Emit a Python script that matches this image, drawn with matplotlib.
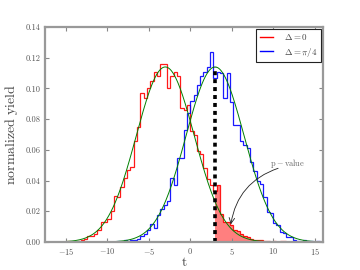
import numpy as np
import matplotlib
matplotlib.use('Agg')
import matplotlib.pyplot as plt
from matplotlib.lines import Line2D
from matplotlib.ticker import FormatStrFormatter

plt.rcParams['font.family'] = 'serif'
plt.rcParams['font.serif'] = ['cmr10']
plt.rcParams['mathtext.fontset'] = 'cm'
plt.rcParams['axes.formatter.use_mathtext'] = True
plt.rcParams['axes.unicode_minus'] = True

# ---------------- data ----------------
bin_width = 0.4
red_start = -15.2
red_values = [0.0, 0.0005, 0.0, 0.0005, 0.0005, 0.001, 0.002, 0.004, 0.004, 0.005,
              0.008, 0.013, 0.013, 0.015, 0.020, 0.030, 0.029, 0.036, 0.042, 0.047,
              0.049, 0.066, 0.075, 0.097, 0.094, 0.100, 0.105, 0.111, 0.108, 0.116,
              0.116, 0.100, 0.108, 0.111, 0.108, 0.087, 0.086, 0.089, 0.072, 0.070,
              0.059, 0.057, 0.048, 0.041, 0.037, 0.033, 0.037, 0.018, 0.013, 0.013,
              0.011, 0.008, 0.007, 0.005, 0.004, 0.0035, 0.002, 0.0015, 0.0012, 0.001,
              0.0005, 0.0005, 0.0, 0.0005, 0.0, 0.0005, 0.0005, 0.0]
blue_start = -8.8
blue_values = [0.0005, 0.0, 0.001, 0.0005, 0.001, 0.0015, 0.002, 0.004, 0.005, 0.0078,
               0.0117, 0.009, 0.0176, 0.0215, 0.024, 0.027, 0.0415, 0.037, 0.0545, 0.055,
               0.073, 0.084, 0.092, 0.096, 0.102, 0.108, 0.111, 0.114, 0.124, 0.107,
               0.111, 0.110, 0.0935, 0.110, 0.091, 0.076, 0.076, 0.066, 0.063, 0.061,
               0.052, 0.046, 0.040, 0.038, 0.0295, 0.0197, 0.019, 0.0122, 0.011, 0.0067,
               0.006, 0.0035, 0.0035, 0.0013, 0.0005, 0.0, 0.001, 0.0005, 0.0005, 0.0,
               0.0005, 0.0]
red_fit_mu, red_fit_sigma = -3.0, 3.5
blue_fit_mu, blue_fit_sigma = 3.0, 3.5
t_obs = 2.95
legend_labels = [r'$\Delta = 0$', r'$\Delta = \pi/4$']
x_ticks = [-15, -10, -5, 0, 5, 10, 15]
y_ticks = [0.00, 0.02, 0.04, 0.06, 0.08, 0.10, 0.12, 0.14]
pvalue_label = r'$\mathrm{p-value}$'

# ---------------- figure ----------------
fig = plt.figure(figsize=(3.6, 2.7), dpi=100)
ax = fig.add_axes([0.125, 0.1037, 0.772, 0.7963])

red_edges = red_start + bin_width * np.arange(len(red_values) + 1)
blue_edges = blue_start + bin_width * np.arange(len(blue_values) + 1)
red_v = np.array(red_values)
blue_v = np.array(blue_values)

# p-value fill under the null histogram beyond t_obs
mask = red_edges[1:] > t_obs
fx = np.concatenate([[t_obs], red_edges[1:][mask]])
fy = np.concatenate([red_v[mask], [red_v[mask][-1]]])
ax.fill_between(fx, 0, fy, step='post', color='red', alpha=0.5, lw=0)

ax.stairs(red_v, red_edges, color='red', lw=0.9, baseline=None, alpha=0.9)
ax.stairs(blue_v, blue_edges, color='blue', lw=0.9, baseline=None, alpha=0.9)

def gauss(x, mu, s):
    return np.exp(-0.5 * ((x - mu) / s) ** 2) / (s * np.sqrt(2 * np.pi))

xx = np.linspace(-17.5, 16, 500)
ax.plot(xx, gauss(xx, red_fit_mu, red_fit_sigma), color='green', lw=0.7)
ax.plot(xx, gauss(xx, blue_fit_mu, blue_fit_sigma), color='green', lw=0.7)

ax.plot([t_obs, t_obs], [0, gauss(t_obs, blue_fit_mu, blue_fit_sigma)],
        color='black', lw=2.6, dashes=(1.1, 1.1))

ax.text(11.75, 0.0514, pvalue_label, ha='center', va='center', fontsize=6,
        color='#666666')
ax.annotate('', xy=(4.9, 0.0115), xytext=(10.6, 0.0480),
            arrowprops=dict(arrowstyle='->', color='#222222', lw=0.6,
                            connectionstyle='arc3,rad=0.3', shrinkA=0, shrinkB=0))

ax.set_xlim(-17.5, 16)
ax.set_ylim(0, 0.14)
ax.set_xticks(x_ticks)
ax.set_yticks(y_ticks)
ax.yaxis.set_major_formatter(FormatStrFormatter('%.2f'))
ax.tick_params(direction='in', length=3, width=0.8, colors='#888888',
               labelcolor='#555555', labelsize=6, top=True, right=True, pad=3)
for sp in ax.spines.values():
    sp.set_color('#999999')
    sp.set_linewidth(1.6)

ax.set_xlabel(r'$\mathrm{t}$', fontsize=10, color='#444444', labelpad=-1)
ax.set_ylabel(r'$\mathrm{normalized\ yield}$', fontsize=10, color='#444444', labelpad=4)

handles = [Line2D([], [], color='red', lw=1.0), Line2D([], [], color='blue', lw=1.0)]
leg = ax.legend(handles, legend_labels, loc='upper right', fontsize=6.5,
                handlelength=1.5, handletextpad=1.2, borderaxespad=0.25,
                fancybox=False, framealpha=1, edgecolor='#222222',
                borderpad=0.35, labelspacing=0.35)
leg.get_frame().set_linewidth(0.8)
for txt in leg.get_texts():
    txt.set_color('#444444')

fig.savefig('out.png', dpi=100)
